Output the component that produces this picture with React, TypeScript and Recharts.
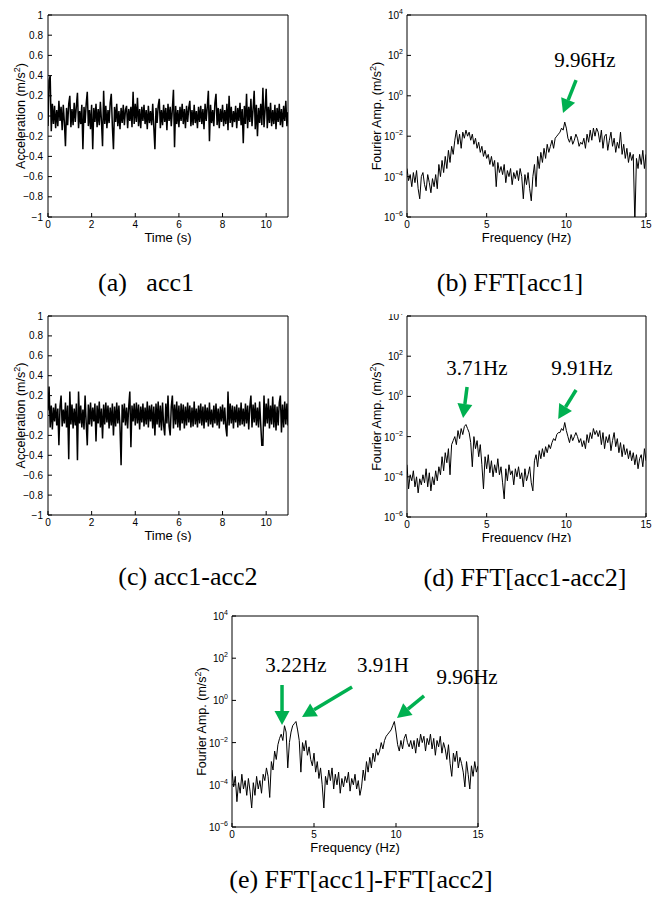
import React from 'react';
import { LineChart, Line, XAxis, YAxis, ReferenceLine, ReferenceDot } from 'recharts';

const SANS = '"Liberation Sans", Arial, sans-serif';
const SERIF = '"Liberation Serif", "Times New Roman", serif';
const GREEN = '#00b050';
const INK = '#000';

// sampling grids of the records
const TIME_STEP = 0.05; // s
const FREQ_STEP = 0.1; // Hz

// (a) acc1, m/s^2, one row per second
const acc1 = [
  -0.1, 0.35, 0.4, -0.15, 0.12, -0.08, 0.1, -0.12, 0.06, -0.1, 0.15, -0.05, 0.09, -0.14, 0.11, -0.06, -0.3, 0.08, -0.09, 0.12,
  0.2, -0.11, 0.07, -0.09, 0.13, -0.06, 0.1, 0.23, -0.12, 0.05, -0.08, 0.11, -0.33, 0.09, -0.07, 0.12, 0.24, -0.1, 0.06, -0.13,
  0.11, -0.33, 0.08, -0.06, 0.12, -0.11, 0.07, -0.09, 0.14, -0.05, -0.3, 0.25, -0.08, 0.1, -0.12, 0.06, -0.07, 0.13, 0.22, -0.1,
  -0.33, 0.09, -0.06, 0.12, -0.1, 0.05, -0.13, 0.08, -0.07, 0.11, -0.09, 0.06, 0.1, -0.12, 0.07, -0.05, 0.09, -0.11, 0.24, -0.08,
  0.12, -0.06, 0.18, -0.1, 0.07, -0.12, 0.09, -0.05, 0.11, -0.08, 0.06, -0.13, 0.1, -0.07, 0.05, -0.09, 0.12, -0.11, -0.33, 0.08,
  -0.07, 0.1, 0.17, -0.12, 0.06, -0.09, 0.11, -0.06, 0.08, -0.14, 0.12, -0.05, 0.09, -0.1, 0.07, 0.26, -0.31, 0.1, -0.08, 0.06,
  -0.11, 0.09, -0.05, 0.12, -0.08, 0.07, -0.12, 0.1, -0.06, 0.08, 0.15, -0.1, 0.06, -0.09, 0.11, -0.07, 0.05, -0.12, 0.09, -0.06,
  0.1, -0.08, 0.07, -0.13, 0.12, -0.05, 0.09, 0.25, -0.25, 0.11, -0.07, 0.06, -0.1, 0.13, 0.22, -0.09, 0.08, -0.12, 0.07, -0.06,
  0.11, -0.1, 0.06, -0.08, 0.12, -0.14, 0.2, -0.07, 0.09, -0.11, 0.05, -0.06, 0.1, -0.12, 0.08, -0.05, 0.13, -0.09, 0.07, -0.27,
  0.1, -0.08, 0.22, -0.12, 0.09, -0.06, 0.17, -0.1, 0.07, 0.25, -0.13, 0.11, -0.2, 0.08, -0.07, 0.12, -0.09, 0.28, -0.11, 0.06,
  0.27, -0.12, 0.09, -0.07, 0.13, -0.1, 0.06, -0.08, 0.11, -0.13, 0.08, -0.06, 0.12, -0.09, 0.07, -0.11, 0.1, -0.05, 0.15, -0.1,
  0.04,
];

// (c) acc1-acc2, m/s^2
const acc1MinusAcc2 = [
  0.05, 0.29, -0.12, 0.1, -0.14, 0.08, -0.06, 0.12, -0.1, 0.07, -0.3, 0.09, 0.2, -0.11, 0.06, -0.08, 0.13, -0.12, 0.1, -0.44,
  0.24, -0.09, 0.11, -0.13, 0.07, -0.1, 0.12, -0.45, 0.24, -0.08, 0.1, -0.12, 0.06, -0.14, 0.2, -0.07, -0.3, 0.11, -0.09, 0.13,
  -0.11, 0.08, -0.06, 0.12, -0.26, 0.1, -0.08, 0.14, -0.12, 0.07, -0.23, 0.11, -0.09, 0.13, -0.07, 0.1, -0.13, 0.08, -0.1, 0.12,
  -0.2, 0.09, -0.11, 0.13, -0.08, 0.1, -0.12, -0.5, 0.11, -0.07, 0.12, -0.1, 0.08, -0.13, 0.09, 0.24, -0.32, 0.1, -0.06, 0.12,
  -0.1, 0.13, -0.08, 0.11, -0.14, 0.09, -0.07, 0.12, -0.11, 0.08, -0.09, 0.14, -0.12, 0.1, -0.06, 0.11, -0.13, 0.09, -0.2, 0.12,
  -0.09, 0.14, -0.12, 0.1, -0.15, 0.13, -0.1, -0.2, 0.12, -0.08, 0.2, -0.11, -0.2, 0.09, 0.2, -0.13, 0.11, -0.09, 0.14, -0.12,
  0.1, -0.15, 0.12, -0.08, 0.11, -0.13, 0.09, -0.1, 0.13, -0.07, 0.1, -0.12, 0.08, -0.11, 0.14, -0.09, 0.07, -0.12, 0.1, -0.08,
  0.12, -0.1, 0.09, -0.13, 0.11, -0.07, 0.08, -0.11, 0.13, -0.09, 0.06, -0.12, 0.1, -0.08, 0.12, -0.1, 0.07, -0.13, 0.09, -0.06,
  0.11, -0.09, 0.08, -0.12, -0.21, 0.24, -0.1, 0.12, -0.08, 0.1, -0.13, 0.09, -0.07, 0.11, -0.12, 0.08, -0.1, 0.13, -0.09, 0.07,
  -0.11, 0.12, -0.08, 0.1, -0.14, 0.09, 0.2, -0.12, 0.11, -0.07, 0.13, -0.1, 0.08, -0.12, 0.14, -0.09, -0.3, -0.3, 0.2, -0.11,
  0.12, -0.08, 0.17, -0.13, 0.1, -0.09, 0.19, -0.12, 0.11, -0.15, 0.09, -0.1, 0.13, 0.2, -0.17, 0.11, -0.12, 0.14, -0.09, 0.12,
  -0.1,
];

// Fourier amplitudes as log10(m/s^2), one row per Hz
const fftAcc1 = [
  -3.6, -4.2, -3.9, -4.5, -3.8, -4.3, -3.7, -4.6, -5.1, -4.0,
  -3.8, -4.4, -4.7, -3.9, -4.3, -4.8, -4.1, -4.5, -3.9, -4.6,
  -3.4, -4.0, -3.2, -3.8, -3.0, -3.6, -2.7, -3.3, -2.5, -2.9,
  -2.2, -1.7, -2.4, -1.9, -2.6, -1.8, -2.1, -1.7, -2.0, -1.8,
  -2.2, -1.9, -2.4, -2.1, -2.6, -2.3, -2.8, -2.5, -3.0, -2.7,
  -3.1, -2.9, -3.4, -3.0, -3.5, -3.2, -4.5, -3.3, -3.8, -3.5,
  -3.9, -3.4, -4.3, -3.7, -4.0, -3.6, -4.4, -3.8, -4.1, -3.7,
  -4.2, -3.6, -4.0, -5.1, -3.9, -4.4, -3.8, -4.6, -5.2, -4.0,
  -3.4, -4.5, -3.0, -3.6, -2.8, -3.3, -2.6, -3.1, -2.4, -2.8,
  -2.5, -2.2, -2.6, -2.1, -2.0, -1.9, -1.8, -1.6, -1.7, -1.3,
  -1.6, -2.1, -2.3, -2.0, -2.4, -2.2, -1.9, -2.1, -2.5, -2.3,
  -2.4, -2.1, -2.6, -1.9, -2.3, -1.7, -2.2, -1.6, -2.0, -1.6,
  -1.8, -2.3, -1.7, -2.6, -2.0, -1.9, -2.7, -2.2, -1.8, -2.5,
  -2.1, -2.8, -2.3, -2.6, -1.8, -2.9, -2.4, -3.1, -2.6, -3.3,
  -2.8, -3.2, -2.9, -6.3, -3.1, -3.6, -2.9, -3.4, -2.7, -3.6,
  -2.9,
];

const fftAcc1MinusAcc2 = [
  -3.4, -4.6, -3.9, -4.2, -3.7, -4.5, -4.0, -4.8, -4.1, -4.4,
  -3.9, -4.3, -3.6, -4.5, -3.8, -4.7, -4.0, -4.4, -3.7, -4.2,
  -3.5, -3.9, -3.0, -3.7, -2.8, -3.3, -2.6, -3.9, -2.4, -2.2,
  -2.0, -2.4, -1.7, -2.1, -1.6, -1.9, -1.5, -1.4, -1.6, -1.8,
  -2.3, -3.5, -2.0, -2.6, -2.2, -3.0, -2.4, -3.4, -4.6, -3.0,
  -3.6, -2.9, -3.8, -3.2, -4.0, -3.4, -3.8, -3.1, -3.9, -3.5,
  -4.3, -5.1, -3.6, -4.2, -3.4, -3.9, -3.7, -4.4, -3.6, -4.0,
  -3.5, -4.1, -3.8, -4.5, -3.6, -4.2, -3.9, -3.5, -4.3, -4.7,
  -3.2, -2.9, -3.5, -2.7, -3.1, -2.6, -3.0, -2.5, -2.8, -2.4,
  -2.6, -2.3, -2.1, -2.2, -1.9, -1.8, -1.8, -1.6, -1.7, -1.3,
  -1.7, -2.0, -2.3, -1.9, -2.2, -2.0, -1.8, -2.0, -2.3, -2.1,
  -2.5, -2.2, -2.6, -1.9, -2.3, -1.8, -2.1, -1.6, -1.9, -1.7,
  -2.0, -1.7, -2.4, -1.8, -2.6, -2.0, -2.3, -1.9, -2.7, -2.2,
  -1.8, -2.5, -2.1, -2.8, -2.3, -3.0, -2.4, -2.9, -2.6, -3.1,
  -2.7, -3.2, -2.8, -3.4, -2.9, -3.6, -3.1, -2.9, -3.5, -2.6,
  -3.2,
];

const fftAcc1MinusFftAcc2 = [
  -3.3, -4.1, -3.6, -4.8, -3.9, -4.4, -3.5, -4.2, -3.8, -4.5,
  -3.7, -4.3, -5.1, -3.9, -4.5, -3.6, -4.2, -3.8, -4.4, -3.5,
  -3.8, -3.2, -3.6, -4.6, -2.9, -3.3, -2.4, -2.8, -2.1, -1.8,
  -1.6, -1.9, -1.2, -1.5, -3.2, -2.0, -1.5, -1.2, -1.1, -1.0,
  -1.4, -1.9, -3.4, -2.0, -2.4, -1.9, -2.6, -2.2, -2.8, -3.1,
  -2.5, -3.4, -2.9, -3.7, -3.2, -4.0, -5.1, -3.6, -4.0, -3.3,
  -3.8, -3.2, -4.2, -3.5, -4.0, -3.4, -4.4, -3.7, -4.1, -3.6,
  -3.9, -3.4, -4.3, -3.7, -4.0, -3.5, -4.2, -3.8, -4.5, -4.1,
  -3.3, -3.8, -2.9, -3.4, -2.7, -3.2, -2.5, -2.9, -2.3, -2.6,
  -2.4, -2.0, -2.3, -1.9, -1.7, -1.6, -1.5, -1.4, -1.2, -1.0,
  -1.5, -2.1, -2.4, -1.9, -2.3, -1.8, -1.6, -2.0, -2.2, -1.9,
  -2.3, -1.9, -2.5, -1.8, -2.2, -1.6, -2.0, -1.7, -2.4, -1.8,
  -2.1, -1.6, -2.3, -1.8, -2.6, -1.9, -2.2, -1.7, -2.5, -2.0,
  -2.3, -2.8, -2.1, -3.0, -3.6, -2.5, -2.9, -2.4, -3.2, -2.7,
  -3.0, -3.4, -4.1, -2.9, -3.5, -4.2, -3.1, -3.6, -2.9, -3.4,
  -3.1,
];

const timeTicks = [0, 2, 4, 6, 8, 10];
const accTicks = [-1, -0.8, -0.6, -0.4, -0.2, 0, 0.2, 0.4, 0.6, 0.8, 1];
const freqTicks = [0, 5, 10, 15];
const ampTicks = [1e-6, 1e-4, 1e-2, 1, 1e2, 1e4];

type Note = { text: string; x: number; y: number };
type Arrow = { from: [number, number]; to: [number, number] };

const notesB: Note[] = [{ text: '9.96Hz', x: 11.17, y: 59 }];
const arrowsB: Arrow[] = [{ from: [10.61, 6], to: [9.79, 0.14] }];

const notesD: Note[] = [
  { text: '3.71Hz', x: 4.39, y: 25.7 },
  { text: '9.91Hz', x: 10.98, y: 25.7 },
];
const arrowsD: Arrow[] = [
  { from: [3.77, 2.95], to: [3.52, 0.085] },
  { from: [10.61, 2.09], to: [9.49, 0.076] },
];

const notesE: Note[] = [
  { text: '3.22Hz', x: 3.9, y: 47.9 },
  { text: '3.91H', x: 9.21, y: 47.9 },
  { text: '9.96Hz', x: 14.33, y: 12.9 },
];
const arrowsE: Arrow[] = [
  { from: [3.05, 5.37], to: [3.05, 0.068] },
  { from: [7.32, 4.37], to: [4.27, 0.162] },
  { from: [11.71, 1.62], to: [10.06, 0.148] },
];

const timeRows = (vals: number[]) => vals.map((v, i) => ({ x: +(i * TIME_STEP).toFixed(2), v }));
const freqRows = (logs: number[]) => logs.map((l, i) => ({ x: +(i * FREQ_STEP).toFixed(1), v: Math.pow(10, l) }));

const fmtAcc = (v: number) => (v < 0 ? '\u2212' + Math.abs(v) : String(v));

const PowTick = (p: any) => {
  const exp = Math.round(Math.log10(p.payload.value));
  return (
    <text x={p.x} y={p.y} dy={4} textAnchor="end" fontSize={10} fontFamily={SANS} fill={INK}>
      10<tspan dy={-5} fontSize={7}>{exp < 0 ? '\u2212' + Math.abs(exp) : exp}</tspan>
    </text>
  );
};

const ArrowShape = (p: any) => {
  const { x1, y1, x2, y2 } = p;
  const len = Math.hypot(x2 - x1, y2 - y1) || 1;
  const ux = (x2 - x1) / len;
  const uy = (y2 - y1) / len;
  const bx = x2 - ux * 14;
  const by = y2 - uy * 14;
  return (
    <g>
      <line x1={x1} y1={y1} x2={bx} y2={by} stroke={GREEN} strokeWidth={3.5} />
      <polygon
        points={`${x2},${y2} ${bx - uy * 7.5},${by + ux * 7.5} ${bx + uy * 7.5},${by - ux * 7.5}`}
        fill={GREEN}
      />
    </g>
  );
};

const NoteText = (p: any) => {
  const vb = p.viewBox;
  return (
    <text x={vb.x + vb.width / 2} y={vb.y + vb.height / 2} dy="0.35em" textAnchor="middle" fontSize={21} fontFamily={SERIF} fill="#000">
      {p.value}
    </text>
  );
};

type PanelProps = {
  box: { x: number; y: number; w: number; h: number };
  rows: { x: number; v: number }[];
  xDomain: [number, number];
  xTicks: number[];
  xLabel: string;
  yLabel: string;
  log?: boolean;
  labelGap?: number;
  notes?: Note[];
  arrows?: Arrow[];
  rightPad?: number;
  clipTop?: number;
  clipBottom?: number;
};

const Panel = ({ box, rows, xDomain, xTicks, xLabel, yLabel, log, labelGap = 27, notes = [], arrows = [], rightPad = 12, clipTop, clipBottom }: PanelProps) => {
  const left = box.x - 48;
  const top = box.y - 10;
  const width = box.w + 48 + rightPad;
  const height = box.h + 42;
  const wTop = clipTop ?? top;
  const wBottom = clipBottom ?? top + height;
  const yDomain: [number, number] = log ? [1e-6, 1e4] : [-1, 1];
  const yTicks = log ? ampTicks : accTicks;
  const yScale = log ? 'log' : 'linear';

  const renderXLabel = (p: any) => {
    const vb = p.viewBox;
    return (
      <text x={vb.x + vb.width / 2} y={vb.y + 25} textAnchor="middle" fontSize={13} fontFamily={SANS} fill={INK}>
        {xLabel}
      </text>
    );
  };
  const renderYLabel = (p: any) => {
    const vb = p.viewBox;
    const cx = vb.x + vb.width - labelGap;
    const cy = vb.y + vb.height / 2;
    return (
      <text x={cx} y={cy} dy="0.35em" transform={`rotate(-90 ${cx} ${cy})`} textAnchor="middle" fontSize={12.5} fontFamily={SANS} fill={INK}>
        {yLabel} (m/s<tspan dy={-5} fontSize={9}>2</tspan>
        <tspan dy={5}>)</tspan>
      </text>
    );
  };

  return (
    <div style={{ position: 'absolute', left, top: wTop, width, height: wBottom - wTop, overflow: 'hidden' }}>
      <div style={{ position: 'absolute', left: 0, top: top - wTop }}>
        <LineChart width={width} height={height} data={rows} margin={{ top: 9, right: rightPad - 1, bottom: 10, left: 8 }}>
          <XAxis
            dataKey="x"
            type="number"
            domain={xDomain}
            ticks={xTicks}
            interval={0}
            allowDataOverflow
            stroke="#000"
            tickSize={-4}
            tickMargin={8}
            height={22}
            tick={{ fontSize: 10, fill: INK, fontFamily: SANS }}
            label={{ value: xLabel, content: renderXLabel }}
          />
          <XAxis xAxisId="top" orientation="top" dataKey="x" type="number" domain={xDomain} ticks={xTicks} interval={0} allowDataOverflow stroke="#000" tickSize={-4} height={1} tick={false} />
          <YAxis
            type="number"
            scale={yScale}
            domain={yDomain}
            ticks={yTicks}
            interval={0}
            allowDataOverflow
            stroke="#000"
            width={40}
            tickSize={-4}
            tickMargin={log ? 8 : 9}
            tick={log ? PowTick : { fontSize: 10, fill: INK, fontFamily: SANS }}
            tickFormatter={log ? undefined : fmtAcc}
            label={{ value: yLabel, content: renderYLabel }}
          />
          <YAxis yAxisId="right" orientation="right" type="number" scale={yScale} domain={yDomain} ticks={yTicks} interval={0} allowDataOverflow stroke="#000" width={1} tickSize={-4} tick={false} />
          <Line dataKey="v" stroke="#000" strokeWidth={log ? 1 : 1.5} dot={false} isAnimationActive={false} />
          {arrows.map((a, i) => (
            <ReferenceLine
              key={'a' + i}
              segment={[
                { x: a.from[0], y: a.from[1] },
                { x: a.to[0], y: a.to[1] },
              ]}
              shape={ArrowShape}
            />
          ))}
          {notes.map((n, i) => (
            <ReferenceDot key={'n' + i} x={n.x} y={n.y} r={0} fill="none" stroke="none" label={{ value: n.text, content: NoteText }} />
          ))}
        </LineChart>
      </div>
    </div>
  );
};

const Caption = ({ text, cx, cy }: { text: string; cx: number; cy: number }) => (
  <div
    style={{
      position: 'absolute',
      left: cx - 200,
      top: cy - 15,
      width: 400,
      lineHeight: '30px',
      textAlign: 'center',
      fontFamily: SERIF,
      fontSize: 26,
      whiteSpace: 'pre',
      color: '#000',
    }}
  >
    {text}
  </div>
);

export default function App() {
  return (
    <div style={{ position: 'absolute', left: 0, top: 0, width: 661, height: 897, background: '#fff', overflow: 'hidden' }}>
      <Panel box={{ x: 48, y: 15, w: 240, h: 202 }} rows={timeRows(acc1)} xDomain={[0, 11]} xTicks={timeTicks} xLabel="Time (s)" yLabel="Acceleration" />
      <Panel box={{ x: 407, y: 15, w: 239, h: 202 }} rows={freqRows(fftAcc1)} xDomain={[0, 15]} xTicks={freqTicks} xLabel="Frequency (Hz)" yLabel="Fourier Amp." log labelGap={30} notes={notesB} arrows={arrowsB} />
      <Panel box={{ x: 48, y: 316, w: 240, h: 199 }} rows={timeRows(acc1MinusAcc2)} xDomain={[0, 11]} xTicks={timeTicks} xLabel="Time (s)" yLabel="Acceleration" clipBottom={542} />
      <Panel box={{ x: 407, y: 316, w: 239, h: 201 }} rows={freqRows(fftAcc1MinusAcc2)} xDomain={[0, 15]} xTicks={freqTicks} xLabel="Frequency (Hz)" yLabel="Fourier Amp." log labelGap={30} notes={notesD} arrows={arrowsD} clipTop={314} clipBottom={542} />
      <Panel box={{ x: 232, y: 616, w: 246, h: 211 }} rows={freqRows(fftAcc1MinusFftAcc2)} xDomain={[0, 15]} xTicks={freqTicks} xLabel="Frequency (Hz)" yLabel="Fourier Amp." log labelGap={30} notes={notesE} arrows={arrowsE} rightPad={32} />
      <Caption text="(a)   acc1" cx={146} cy={283} />
      <Caption text="(b) FFT[acc1]" cx={510} cy={283} />
      <Caption text="(c) acc1-acc2" cx={188} cy={577} />
      <Caption text="(d) FFT[acc1-acc2]" cx={525} cy={578} />
      <Caption text="(e) FFT[acc1]-FFT[acc2]" cx={361} cy={880} />
    </div>
  );
}
